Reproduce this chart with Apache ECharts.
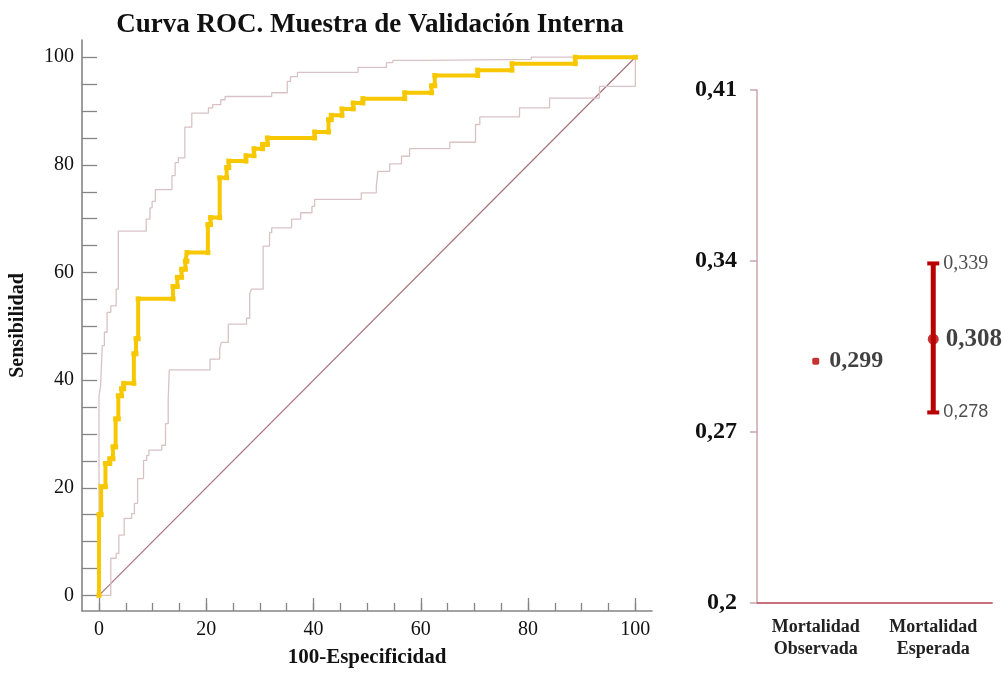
<!DOCTYPE html>
<html><head><meta charset="utf-8">
<script src="https://cdn.jsdelivr.net/npm/echarts@6/dist/echarts.min.js"></script>
<style>html,body{margin:0;padding:0;background:#fff}#c{width:1005px;height:673px}</style>
</head><body><div id="c"></div>
<script>
const titleText = 'Curva ROC. Muestra de Validación Interna';
const xName = '100-Especificidad';
const yName = 'Sensibilidad';
const rocMajorTicks = [0, 20, 40, 60, 80, 100];
const rocMinorTicks = [0,5,10,15,20,25,30,35,40,45,50,55,60,65,70,75,80,85,90,95,100];
const diagonal = [[0,0],[100,100]];
const rocCurve = [
[0,0],[0,15],[0.4,15],[0.4,20.2],[1.2,20.2],[1.2,24.5],[2.0,24.5],[2.0,25.4],[2.6,25.4],[2.6,27.6],[3.1,27.6],[3.1,32.8],[3.6,32.8],[3.6,37.1],[4.2,37.1],[4.2,38.4],[4.6,38.4],[4.6,39.4],[6.5,39.4],[6.5,44.9],[6.9,44.9],[6.9,47.7],[7.3,47.7],[7.3,55.1],[13.8,55.1],[13.8,57.4],[14.6,57.4],[14.6,59.1],[15.4,59.1],[15.4,60.6],[16.1,60.6],[16.1,62.1],[16.4,62.1],[16.4,63.7],[20.3,63.7],[20.3,68.9],[20.8,68.9],[20.8,70.2],[22.5,70.2],[22.5,77.6],[23.8,77.6],[23.8,79.5],[24.2,79.5],[24.2,80.7],[27.4,80.7],[27.4,81.7],[28.9,81.7],[28.9,83.0],[30.5,83.0],[30.5,83.8],[31.4,83.8],[31.4,85.0],[40.2,85.0],[40.2,86.1],[42.8,86.1],[42.8,88.4],[43.3,88.4],[43.3,89.2],[45.3,89.2],[45.3,90.4],[47.4,90.4],[47.4,91.5],[49.2,91.5],[49.2,92.3],[57.0,92.3],[57.0,93.4],[62.0,93.4],[62.0,94.7],[62.6,94.7],[62.6,96.6],[70.6,96.6],[70.6,97.6],[77.0,97.6],[77.0,98.8],[88.8,98.8],[88.8,100],[100,100]
];
const upperCI = [
[0,0],[0,37.1],[0.3,37.1],[0.3,39.0],[0.6,39.0],[0.6,46.4],[1.0,46.4],[1.0,48.9],[1.5,48.9],[1.5,52.6],[2.2,52.6],[2.2,53.8],[3.2,53.8],[3.2,56.9],[3.6,56.9],[3.6,67.7],[8.8,67.7],[8.8,69.9],[9.5,69.9],[9.5,72.0],[9.9,72.0],[9.9,73.2],[10.5,73.2],[10.5,75.4],[13.6,75.4],[13.6,78.0],[14.2,78.0],[14.2,80.4],[14.8,80.4],[14.8,81.3],[16.0,81.3],[16.0,87.0],[17.3,87.0],[17.3,89.6],[20.4,89.6],[20.4,90.6],[21.2,90.6],[21.2,91.2],[22.7,91.2],[22.7,92.1],[23.5,92.1],[23.5,92.7],[32.2,92.7],[32.2,93.4],[35.1,93.4],[35.1,95.5],[35.7,95.5],[35.7,96.4],[37.0,96.4],[37.0,97.2],[48.3,97.2],[48.3,98.1],[53.6,98.1],[53.6,99.0],[54.8,99.0],[54.8,99.4],[61.2,99.4],[61.2,99.6],[80.6,99.6],[80.6,100],[100,100]
];
const lowerCI = [
[0,0],[2.2,0],[2.2,6.9],[3.2,6.9],[3.2,7.8],[3.7,7.8],[3.7,11.2],[4.7,11.2],[4.7,14.3],[6.1,14.3],[6.1,15.2],[6.6,15.2],[6.6,17.1],[7.2,17.1],[7.2,21.7],[8.3,21.7],[8.3,25.1],[8.9,25.1],[8.9,26.0],[9.3,26.0],[9.3,27.0],[11.7,27.0],[11.7,27.9],[12.4,27.9],[12.4,31.9],[12.9,31.9],[12.9,36.5],[13.1,36.5],[13.1,41.9],[20.7,41.9],[20.7,43.9],[22.5,43.9],[22.5,45.8],[22.8,45.8],[22.8,47.0],[24.1,47.0],[24.1,50.4],[27.5,50.4],[27.5,51.5],[28.1,51.5],[28.1,56.0],[28.4,56.0],[28.4,56.9],[30.6,56.9],[30.6,64.9],[31.8,64.9],[31.8,67.4],[32.2,67.4],[32.2,68.3],[35.9,68.3],[35.9,69.9],[37.6,69.9],[37.6,71.1],[39.7,71.1],[39.7,72.3],[40.2,72.3],[40.2,73.6],[48.9,73.6],[48.9,74.8],[51.7,74.8],[51.7,76.0],[52.0,76.0],[52.0,78.8],[54.2,78.8],[54.2,80.2],[56.4,80.2],[56.4,81.6],[57.9,81.6],[57.9,83.0],[65.4,83.0],[65.4,84.2],[70.2,84.2],[70.2,87.5],[71.0,87.5],[71.0,88.9],[78.4,88.9],[78.4,90.6],[84.0,90.6],[84.0,92.4],[93.3,92.4],[93.3,94.6],[100,94.6],[100,100]
];
const categories = ['Mortalidad\nObservada', 'Mortalidad\nEsperada'];
const observed = [0.299];
const expected = [0.308];
const ciLow = [0.278];
const ciHigh = [0.339];
const mortTicks = [0.2, 0.27, 0.34, 0.41];

const serif = "'Liberation Serif','Times New Roman',serif";
const comma = (v, d) => parseFloat(v.toFixed(d)).toString().replace('.', ',');
const axisGray = '#858585';
const red = '#b80000';

const chart = echarts.init(document.getElementById('c'));
chart.setOption({
  animation: false,
  backgroundColor: '#fff',
  title: {
    text: titleText, left: 365, top: 7, textAlign: 'center',
    textStyle: {fontFamily: serif, fontWeight: 'bold', fontSize: 27, color: '#111'}
  },
  grid: [
    {left: 82, right: 353, top: 40, bottom: 60},
    {left: 757, right: 13, top: 90, bottom: 70}
  ],
  xAxis: [
    {gridIndex: 0, type: 'value', position: 'bottom', min: -3.17, max: 103.1,
     name: xName, nameLocation: 'middle', nameGap: 36,
     nameTextStyle: {fontFamily: serif, fontWeight: 'bold', fontSize: 21, color: '#111'},
     axisLine: {show: true, onZero: false, lineStyle: {color: axisGray, width: 1.6}},
     axisTick: {show: true, inside: true, length: 13, customValues: rocMajorTicks, lineStyle: {color: axisGray, width: 1.3}},
     axisLabel: {customValues: rocMajorTicks, margin: 9, fontFamily: serif, fontSize: 20, color: '#111'},
     splitLine: {show: false}},
    {gridIndex: 0, type: 'value', position: 'bottom', min: -3.17, max: 103.1,
     axisLine: {show: false, onZero: false},
     axisTick: {show: true, inside: true, length: 8, customValues: rocMinorTicks, lineStyle: {color: axisGray, width: 1.3}},
     axisLabel: {show: false}, splitLine: {show: false}},
    {gridIndex: 1, type: 'category', data: categories, boundaryGap: true,
     axisLine: {show: true, onZero: false, lineStyle: {color: '#c8707c', width: 2}},
     axisTick: {show: false},
     axisLabel: {margin: 13, fontFamily: serif, fontWeight: 'bold', fontSize: 18, lineHeight: 22, color: '#222'},
     splitLine: {show: false}}
  ],
  yAxis: [
    {gridIndex: 0, type: 'value', position: 'left', min: -2.9, max: 103.2,
     name: yName, nameLocation: 'middle', nameGap: 54, nameRotate: 90,
     nameTextStyle: {fontFamily: serif, fontWeight: 'bold', fontSize: 20, color: '#111'},
     axisLine: {show: true, onZero: false, lineStyle: {color: axisGray, width: 1.6}},
     axisTick: {show: true, inside: true, length: 15, customValues: rocMinorTicks, lineStyle: {color: axisGray, width: 1.3}},
     axisLabel: {customValues: rocMajorTicks, margin: 8, fontFamily: serif, fontSize: 20, color: '#111'},
     splitLine: {show: false}},
    {gridIndex: 1, type: 'value', min: mortTicks[0], max: mortTicks[mortTicks.length - 1], interval: 0.07,
     axisLine: {show: true, onZero: false, lineStyle: {color: '#c9a5ab', width: 1.5}},
     axisTick: {show: true, length: 7, lineStyle: {color: '#c9a5ab', width: 1.5}},
     axisLabel: {margin: 20, fontFamily: serif, fontWeight: 'bold', fontSize: 24, color: '#111',
                 formatter: v => comma(v, 2)},
     splitLine: {show: false}}
  ],
  series: [
    {type: 'line', xAxisIndex: 0, yAxisIndex: 0, data: diagonal, symbol: 'none',
     lineStyle: {color: '#a8707a', width: 1.2}, z: 2, silent: true},
    {type: 'line', xAxisIndex: 0, yAxisIndex: 0, data: upperCI, symbol: 'none',
     lineStyle: {color: '#d8c2c6', width: 1.3}, z: 3, silent: true},
    {type: 'line', xAxisIndex: 0, yAxisIndex: 0, data: lowerCI, symbol: 'none',
     lineStyle: {color: '#d8c2c6', width: 1.3}, z: 3, silent: true},
    {type: 'line', xAxisIndex: 0, yAxisIndex: 0, data: rocCurve, symbol: 'rect', symbolSize: 5,
     showAllSymbol: true, itemStyle: {color: '#f7c800'},
     lineStyle: {color: '#f7c800', width: 4}, z: 5, silent: true},
    {type: 'custom', xAxisIndex: 2, yAxisIndex: 1, z: 4,
     data: ciLow.map((lo, i) => [1 + i, lo, ciHigh[i]]),
     encode: {x: 0, y: [1, 2]},
     renderItem: function (params, api) {
       const x = api.value(0);
       const lo = api.coord([x, api.value(1)]);
       const hi = api.coord([x, api.value(2)]);
       const w = 6;
       const st = {stroke: red, lineWidth: 4};
       return {type: 'group', children: [
         {type: 'line', shape: {x1: lo[0], y1: lo[1], x2: hi[0], y2: hi[1]}, style: {stroke: red, lineWidth: 5}},
         {type: 'line', shape: {x1: lo[0] - w, y1: lo[1], x2: lo[0] + w, y2: lo[1]}, style: st},
         {type: 'line', shape: {x1: hi[0] - w, y1: hi[1], x2: hi[0] + w, y2: hi[1]}, style: st}
       ]};
     }},
    {type: 'scatter', xAxisIndex: 2, yAxisIndex: 1, z: 6,
     data: observed.map(v => [categories[0], v]),
     symbol: 'roundRect', symbolSize: 7, itemStyle: {color: red},
     label: {show: true, position: 'right', distance: 10, fontFamily: serif, fontWeight: 'bold', fontSize: 24, color: '#111',
             formatter: p => comma(p.value[1], 3)}},
    {type: 'scatter', xAxisIndex: 2, yAxisIndex: 1, z: 6,
     data: expected.map(v => [categories[1], v]),
     symbol: 'circle', symbolSize: 11, itemStyle: {color: red},
     label: {show: true, position: 'right', distance: 7, fontFamily: serif, fontWeight: 'bold', fontSize: 25, color: '#111',
             formatter: p => comma(p.value[1], 3)}},
    {type: 'scatter', xAxisIndex: 2, yAxisIndex: 1, z: 6,
     data: ciHigh.map(v => [categories[1], v]),
     symbolSize: 0, itemStyle: {color: red},
     label: {show: true, position: 'right', distance: 10, fontFamily: serif, fontSize: 20, color: '#222',
             formatter: p => comma(p.value[1], 3)}},
    {type: 'scatter', xAxisIndex: 2, yAxisIndex: 1, z: 6,
     data: ciLow.map(v => [categories[1], v]),
     symbolSize: 0, itemStyle: {color: red},
     label: {show: true, position: 'right', distance: 10, fontFamily: "'Liberation Sans',Arial,sans-serif", fontSize: 18, color: '#222',
             formatter: p => comma(p.value[1], 3)}}
  ]
});
</script>
</body></html>
